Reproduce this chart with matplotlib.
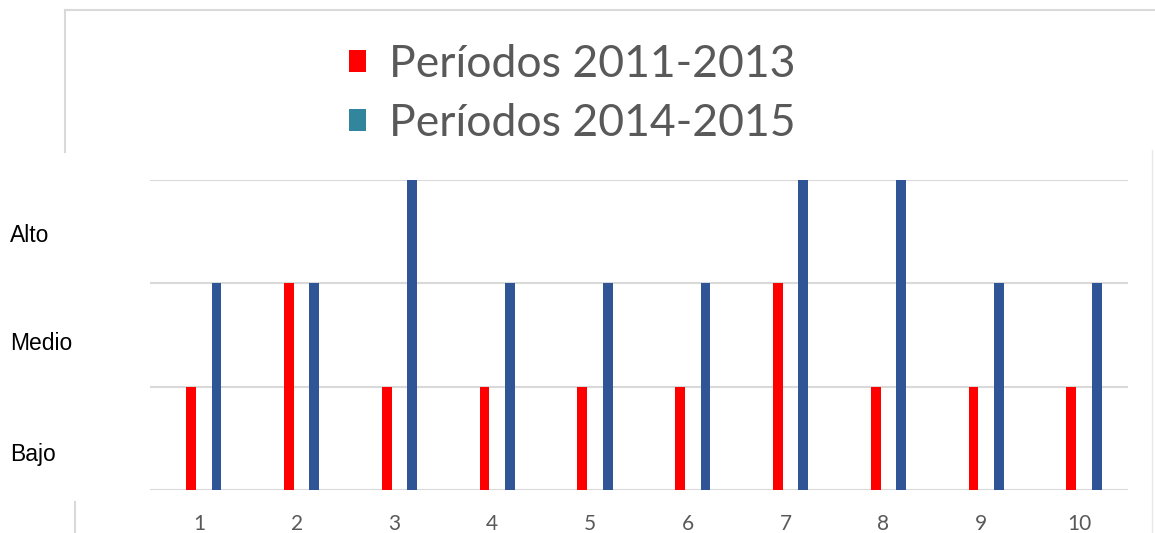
import numpy as np
import matplotlib.pyplot as plt
from matplotlib.patches import Patch
from matplotlib.lines import Line2D

# Datos (niveles: 1 = Bajo, 2 = Medio, 3 = Alto)
casos = [1, 2, 3, 4, 5, 6, 7, 8, 9, 10]
periodo_2011_2013 = [1, 2, 1, 1, 1, 1, 2, 1, 1, 1]
periodo_2014_2015 = [2, 2, 3, 2, 2, 2, 3, 3, 2, 2]
niveles = ["Bajo", "Medio", "Alto"]
etiquetas_leyenda = ["Períodos 2011-2013", "Períodos 2014-2015"]

rojo = "#FF0000"
azul = "#2F5597"
azul_leyenda = "#31859C"
gris_texto = "#595959"

W, H = 1155, 533
fig = plt.figure(figsize=(W / 100, H / 100), dpi=100)
ax = fig.add_axes([150 / W, 1 - 490 / H, 978 / W, 310 / H])

x = np.array(casos)
ax.bar(x - 0.08, periodo_2011_2013, width=0.1, color=rojo, zorder=3)
ax.bar(x + 0.18, periodo_2014_2015, width=0.1, color=azul, zorder=3)

ax.set_xlim(0.5, 10.5)
ax.set_ylim(0, 3)
ax.set_yticks([0, 1, 2, 3])
ax.set_yticklabels([])
ax.yaxis.grid(True, color="#D9D9D9", linewidth=1.5, zorder=0)
ax.tick_params(axis="y", length=0)
ax.set_xticks(casos)
ax.set_xticklabels([str(c) for c in casos], fontsize=15, color=gris_texto,
                   family="Lato")
ax.tick_params(axis="x", length=0, pad=17)
for s in ax.spines.values():
    s.set_visible(False)

# etiquetas de nivel a la izquierda (linea base en pixeles)
base_px = [461, 350, 242]
for nivel, yb in zip(niveles, base_px):
    fig.text(10 / W, 1 - yb / H, nivel, fontsize=16.5, family="Liberation Sans",
             color="black", va="baseline", ha="left")

# leyenda
handles = [Patch(facecolor=rojo, edgecolor="none"),
           Patch(facecolor=azul_leyenda, edgecolor="none")]
fig.legend(handles, etiquetas_leyenda, loc="center", bbox_to_anchor=(572 / W, 1 - 94 / H),
           frameon=False, prop={"family": "Lato", "size": 32},
           labelcolor=gris_texto, handlelength=0.4, handleheight=0.4,
           handletextpad=0.5, labelspacing=0.4)

# lineas de marco
gris_linea = "#D9D9D9"
fig.add_artist(Line2D([65 / W, 1], [1 - 10 / H, 1 - 10 / H],
                      color=gris_linea, linewidth=1.5, transform=fig.transFigure))
fig.add_artist(Line2D([65 / W, 65 / W], [1 - 10 / H, 1 - 152 / H],
                      color=gris_linea, linewidth=1.5, transform=fig.transFigure))
fig.add_artist(Line2D([75 / W, 75 / W], [1 - 502 / H, 0],
                      color=gris_linea, linewidth=1.5, transform=fig.transFigure))
fig.add_artist(Line2D([1152 / W, 1152 / W], [1 - 150 / H, 0],
                      color="#E8E8E8", linewidth=1.0, transform=fig.transFigure))

fig.savefig("out.png", dpi=100)
